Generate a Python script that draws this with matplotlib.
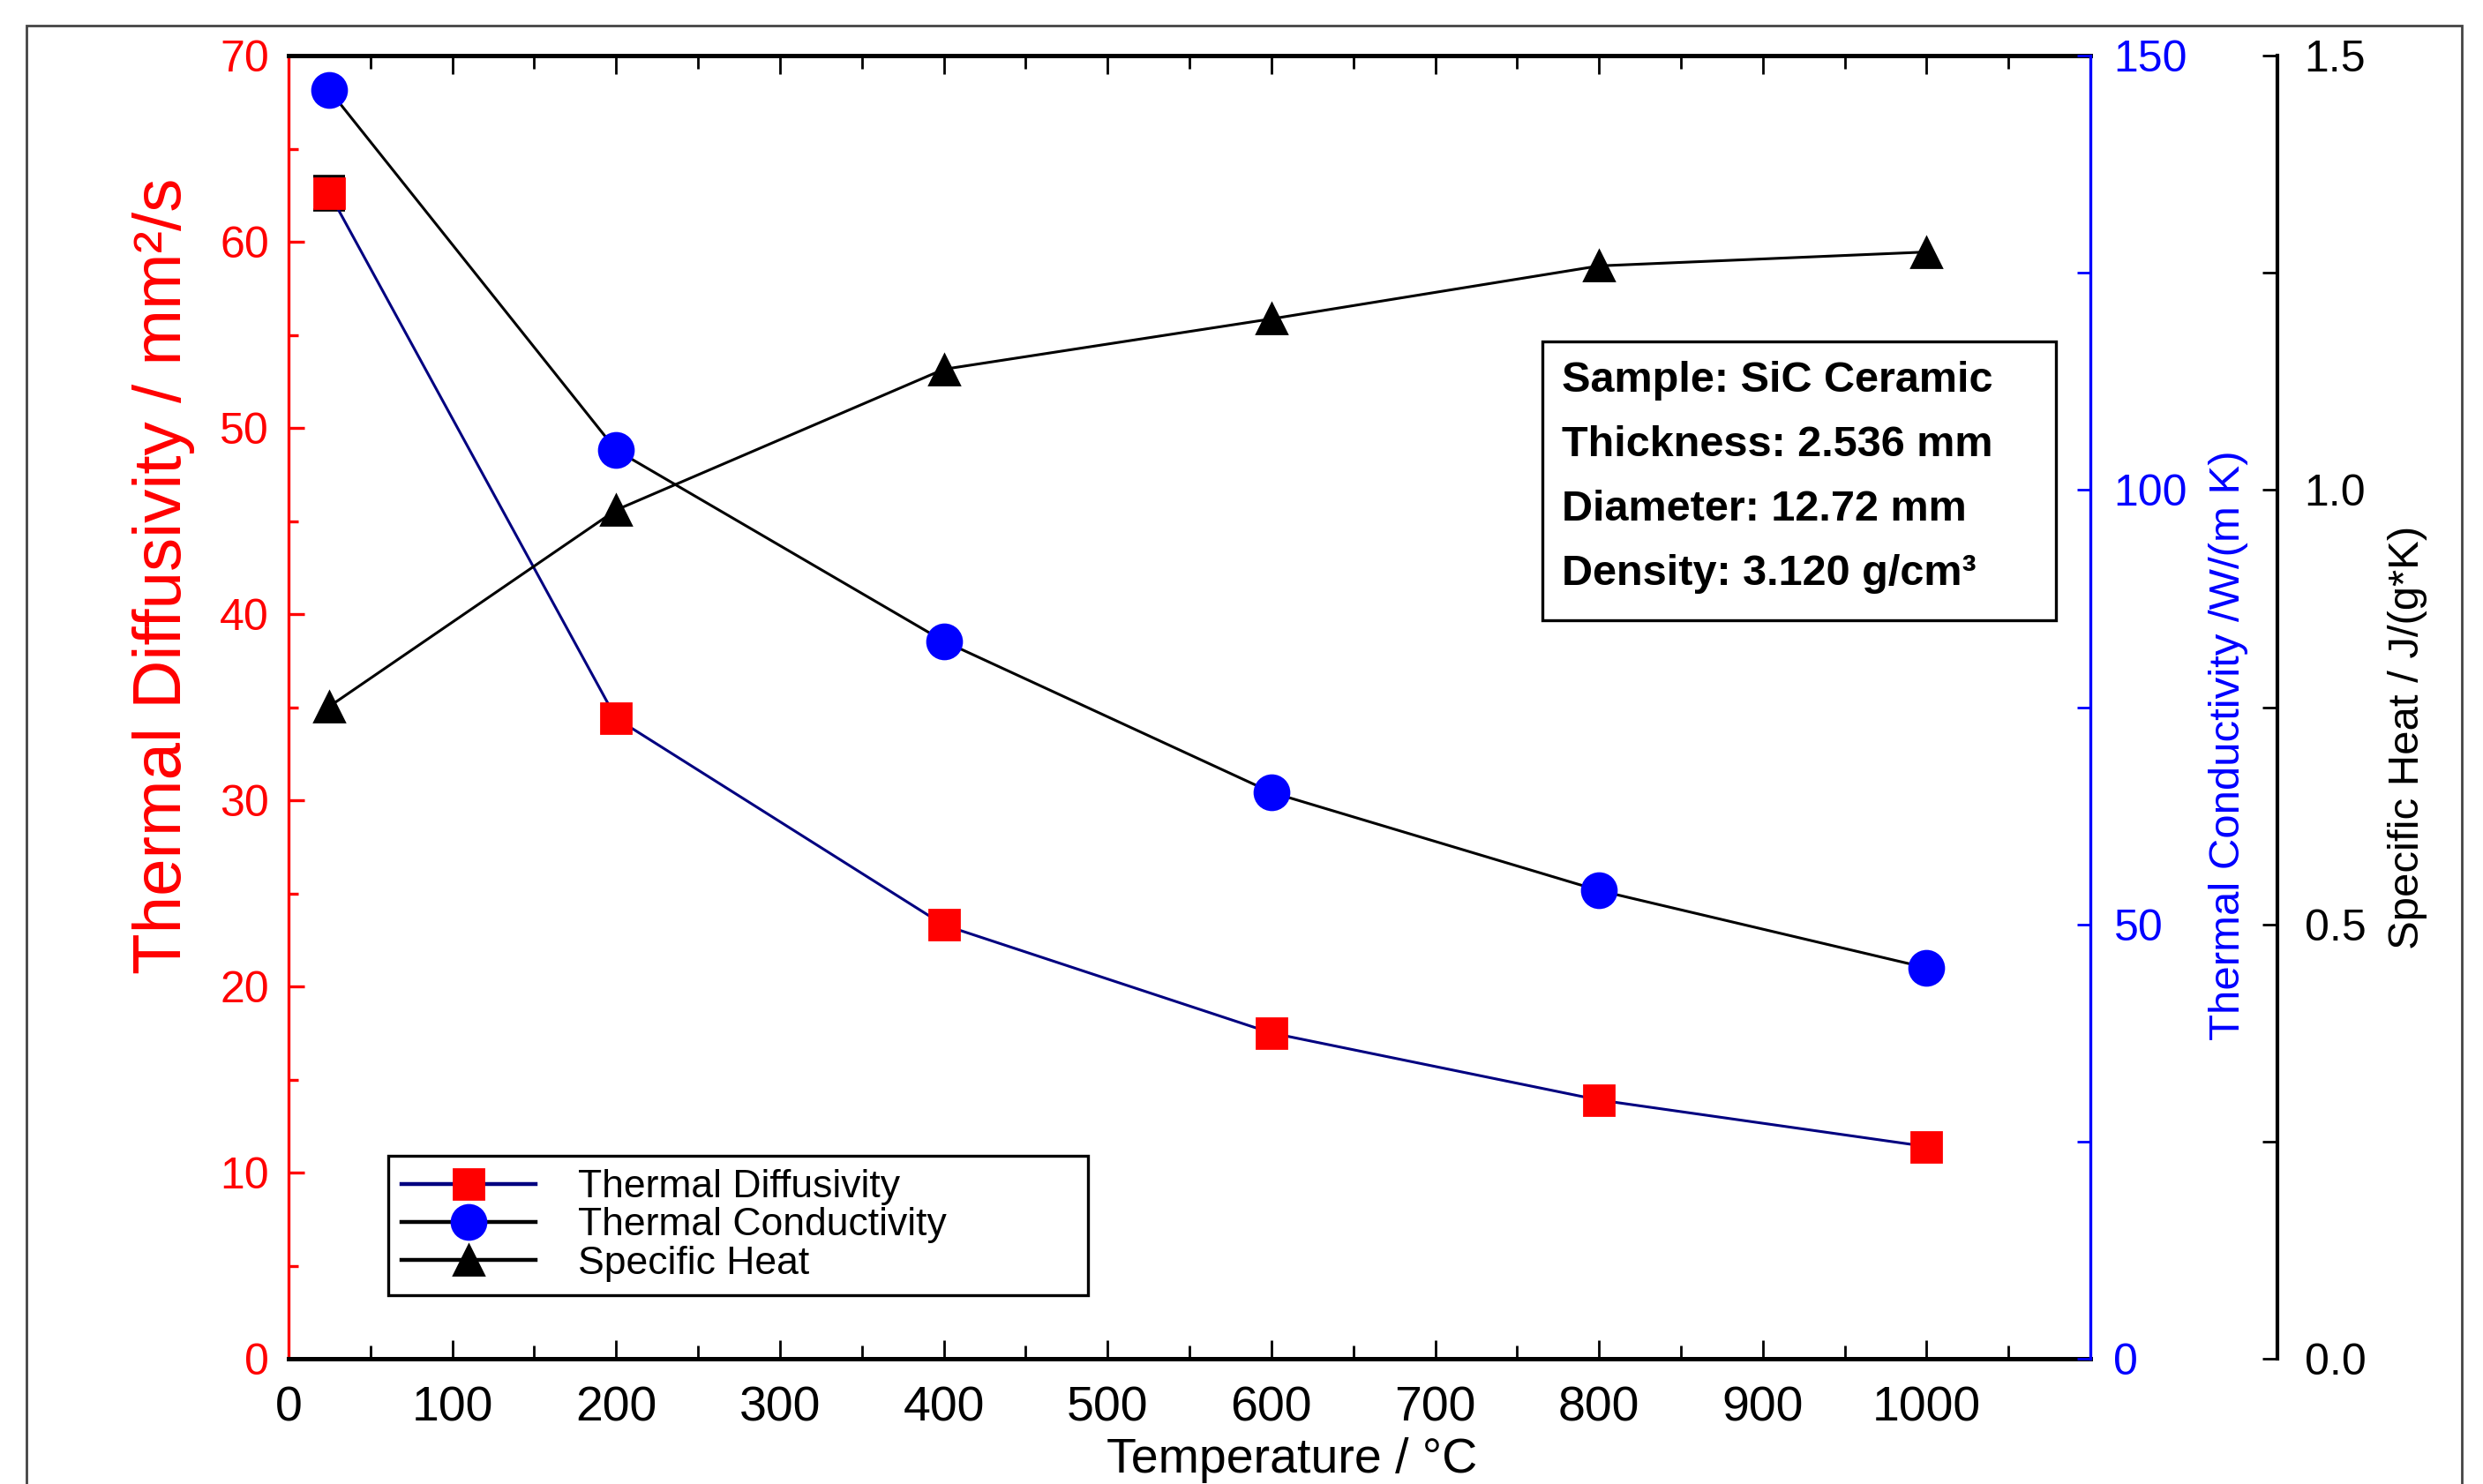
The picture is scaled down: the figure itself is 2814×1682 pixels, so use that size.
import matplotlib.pyplot as plt
from matplotlib.ticker import FixedLocator, FormatStrFormatter
from matplotlib.lines import Line2D
from matplotlib.patches import Rectangle

plt.rcParams['font.family'] = ['Liberation Sans', 'DejaVu Sans']

# data
temperature = [25, 200, 400, 600, 800, 1000]
diffusivity = [62.6, 34.4, 23.3, 17.5, 13.9, 11.4]
diffusivity_err_first = 0.9
conductivity = [146.0, 104.6, 82.6, 65.2, 53.9, 45.0]
specific_heat = [0.751, 0.977, 1.139, 1.197, 1.258, 1.274]

series_names = ['Thermal Diffusivity', 'Thermal Conductivity', 'Specific Heat']
sample_info = ['Sample: SiC Ceramic', 'Thickness: 2.536 mm',
               'Diameter: 12.72 mm', 'Density: 3.120 g/cm³']
x_ticks = list(range(0, 1001, 100))
x_minor = list(range(50, 1051, 100))

fig = plt.figure(figsize=(14.07, 8.41), dpi=200)
ax1 = fig.add_axes([0.1162, 0.0844, 0.7257, 0.8781])
ax2 = ax1.twinx()
ax3 = ax1.twinx()

# thermal diffusivity (left, red axis)
ax1.errorbar([temperature[0]], [diffusivity[0]], yerr=diffusivity_err_first, fmt='none',
             ecolor='black', elinewidth=1, capsize=6.5, capthick=1.3, zorder=2)
ax1.plot(temperature, diffusivity, color='#000080', lw=1.1, marker='s', ms=12.5,
         mfc='red', mec='red', zorder=3)
# thermal conductivity (blue axis)
ax2.plot(temperature, conductivity, color='black', lw=1.1, marker='o', ms=14,
         mfc='blue', mec='blue')
# specific heat (outer black axis)
ax3.plot(temperature, specific_heat, color='black', lw=1.1, marker='^', ms=12,
         mfc='black', mec='black')

ax1.set_xlim(0, 1100)
ax1.set_ylim(0, 70)
ax2.set_ylim(0, 150)
ax3.set_ylim(0, 1.5)

# spines
ax1.spines['left'].set_color('red')
ax1.spines['left'].set_linewidth(1.2)
ax1.spines['bottom'].set_linewidth(1.8)
ax1.spines['top'].set_linewidth(1.8)
ax1.spines['right'].set_visible(False)
for s in ['left', 'top', 'bottom']:
    ax2.spines[s].set_visible(False)
    ax3.spines[s].set_visible(False)
ax2.spines['right'].set_color('blue')
ax2.spines['right'].set_linewidth(1.2)
ax3.spines['right'].set_position(('axes', 1.1038))
ax3.spines['right'].set_linewidth(1.5)

# ticks
ax1.xaxis.set_major_locator(FixedLocator(x_ticks))
ax1.xaxis.set_minor_locator(FixedLocator(x_minor))
ax1.tick_params(axis='x', which='both', direction='in', top=True, bottom=True,
                width=1, labelsize=20, pad=11)
ax1.tick_params(axis='x', which='major', length=7.5)
ax1.tick_params(axis='x', which='minor', length=5.5)

ax1.yaxis.set_major_locator(FixedLocator(range(0, 71, 10)))
ax1.yaxis.set_minor_locator(FixedLocator(range(5, 70, 10)))
ax1.tick_params(axis='y', which='both', direction='in', colors='red', right=False,
                width=1.2, labelsize=18, pad=8)
ax1.tick_params(axis='y', which='major', length=6.5)
ax1.tick_params(axis='y', which='minor', length=4)

ax2.yaxis.set_major_locator(FixedLocator([0, 50, 100, 150]))
ax2.yaxis.set_minor_locator(FixedLocator([25, 75, 125]))
ax2.tick_params(axis='y', which='both', direction='in', colors='blue', length=5.5,
                width=1, labelsize=18, pad=9.5)

ax3.yaxis.set_major_locator(FixedLocator([0, 0.5, 1.0, 1.5]))
ax3.yaxis.set_minor_locator(FixedLocator([0.25, 0.75, 1.25]))
ax3.yaxis.set_major_formatter(FormatStrFormatter('%.1f'))
ax3.tick_params(axis='y', which='both', direction='in', colors='black', length=6,
                width=1, labelsize=18, pad=11)

# axis labels
ax1.set_xlabel('Temperature / °C', fontsize=20)
ax1.xaxis.set_label_coords(0.557, -0.060)
ax1.set_ylabel('Thermal Diffusivity / mm²/s', fontsize=27.5, color='red', va='center')
ax1.yaxis.set_label_coords(-0.0695, 0.601)
ax2.set_ylabel('Thermal Conductivity /W/(m K)', fontsize=17.7, color='blue', va='center')
ax2.yaxis.set_label_coords(1.0764, 0.471)
ax3.set_ylabel('Specific Heat / J/(g*K)', fontsize=17.7, color='black', va='center')
ax3.yaxis.set_label_coords(1.1758, 0.477)

# legend
handles = [
    Line2D([], [], color='#000080', lw=1.6, marker='s', ms=12.5, mfc='red', mec='red'),
    Line2D([], [], color='black', lw=1.6, marker='o', ms=14, mfc='blue', mec='blue'),
    Line2D([], [], color='black', lw=1.6, marker='^', ms=12, mfc='black', mec='black'),
]
leg = ax3.legend(handles, series_names, loc='lower left',
                 bbox_to_anchor=(0.0553, 0.0487, 0.3884, 0.1103), mode='expand',
                 borderaxespad=0, fontsize=16, handlelength=3.4, handletextpad=1.1,
                 labelspacing=0.05, borderpad=0.35, fancybox=False, framealpha=1,
                 edgecolor='black')
leg.get_frame().set_linewidth(1.2)

# sample info box
ax3.add_patch(Rectangle((0.696, 0.5667), 0.285, 0.2143, transform=ax3.transAxes,
                        facecolor='white', edgecolor='black', lw=1.2, zorder=5))
for i, line in enumerate(sample_info):
    ax3.text(0.7066, 0.7508 - i * 0.0494, line, transform=ax3.transAxes,
             fontsize=17.5, fontweight='bold', va='center', ha='left', zorder=6)

# outer frame
fig.add_artist(Rectangle((0.0107, -0.05), 0.9808, 1.0328, transform=fig.transFigure,
                         fill=False, edgecolor='#444444', lw=1))

fig.savefig('out.png', dpi=200)
